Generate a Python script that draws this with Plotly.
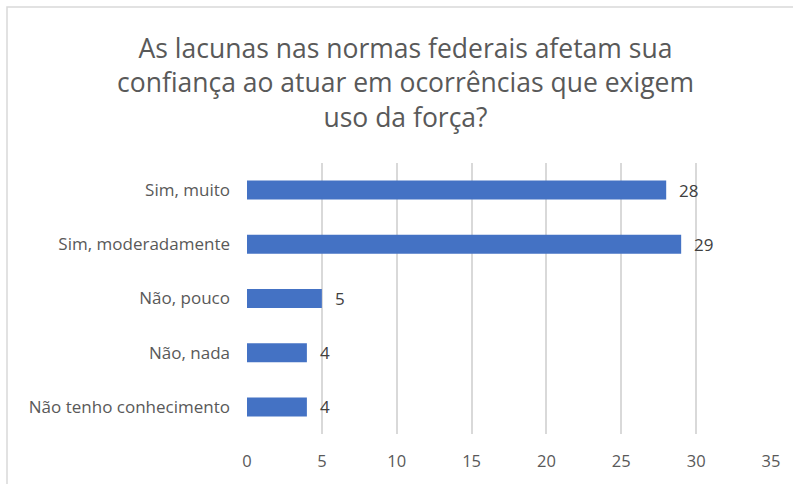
import plotly.graph_objects as go

categories = ["Sim, muito", "Sim, moderadamente", "Não, pouco", "Não, nada", "Não tenho conhecimento"]
values = [28, 29, 5, 4, 4]
x_ticks = [0, 5, 10, 15, 20, 25, 30, 35]
title_text = "As lacunas nas normas federais afetam sua<br>confiança ao atuar em ocorrências que exigem<br>uso da força?"

FONT = "'Open Sans', sans-serif"
GRAY = "#595959"

W, H = 793, 484
L, R, T, B = 247, 22, 163, 50
pw, ph = W - L - R, H - T - B
def px(p): return (p - L) / pw
def py(p): return (H - B - p) / ph

fig = go.Figure()
fig.add_trace(go.Bar(
    y=categories, x=values, orientation="h",
    marker=dict(color="#4472c4", line=dict(width=0)),
    width=0.35, hoverinfo="skip",
))

for c, v in zip(categories, values):
    fig.add_annotation(x=v, y=c, xref="x", yref="y", text=str(v), showarrow=False,
                       xanchor="left", xshift=11, font=dict(family=FONT, size=17, color="#404040"))

fig.add_annotation(x=px(405), y=py(82.5), xref="paper", yref="paper", text=title_text,
                   showarrow=False, xanchor="center", yanchor="middle", align="center",
                   font=dict(family=FONT, size=26.5, color=GRAY))

fig.add_shape(type="rect", xref="paper", yref="paper",
              x0=px(7), x1=px(820), y0=py(7), y1=py(520),
              line=dict(color="#d9d9d9", width=1.5), fillcolor="rgba(0,0,0,0)", layer="below")

fig.update_layout(
    width=W, height=H,
    margin=dict(l=L, r=R, t=T, b=B, autoexpand=False),
    paper_bgcolor="white", plot_bgcolor="white",
    showlegend=False,
    xaxis=dict(range=[0, 35], tickvals=x_ticks, showgrid=True, gridcolor="#d9d9d9", gridwidth=1.5,
               zeroline=False, showline=False, ticks="",
               ticklabelstandoff=15, tickfont=dict(family=FONT, size=16.5, color=GRAY), fixedrange=True),
    yaxis=dict(categoryorder="array", categoryarray=categories, range=[4.5, -0.5],
               showgrid=False, zeroline=False, showline=False, ticks="",
               ticklabelstandoff=16, tickfont=dict(family=FONT, size=17, color=GRAY), fixedrange=True),
)

fig.write_html("out.html", config={"displayModeBar": False},
               post_script="document.body.style.margin='0';document.body.style.overflow='hidden';")
